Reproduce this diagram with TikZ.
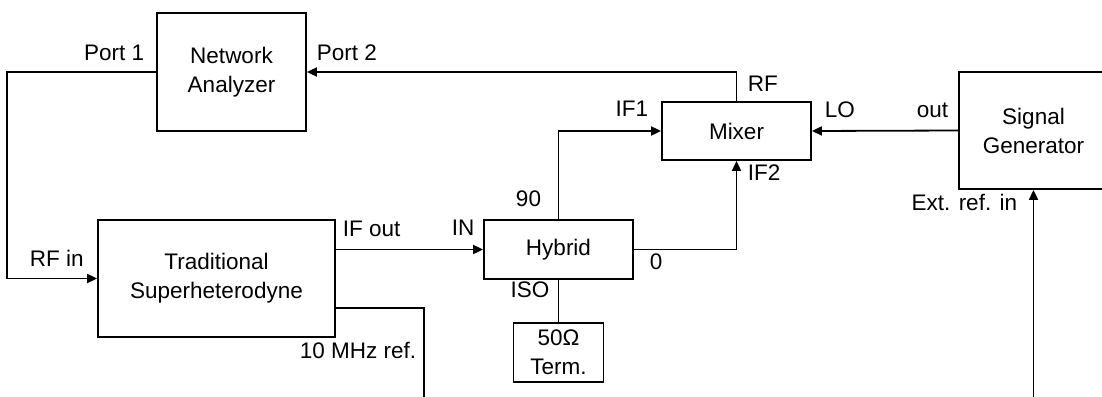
\documentclass[tikz,border=0pt]{standalone}
\usepackage{fontspec}
\setmainfont{Liberation Sans}
\usetikzlibrary{arrows.meta}
\begin{document}
\begin{tikzpicture}[x=1pt,y=-1pt,
  line width=1.8pt,
  blk/.style={draw,rectangle,inner sep=0pt,align=center,font=\fontsize{22.5}{29}\selectfont},
  lbl/.style={inner sep=0pt,font=\fontsize{22.5}{29}\selectfont,text height=0.716em,text depth=0pt},
  arr/.style={-{Triangle[length=10pt,width=9pt]}}]
\useasboundingbox (0,0) rectangle (1102,396);
\node[blk,minimum width=149pt,minimum height=118pt] (NA) at (231.5,72) {Network\\Analyzer};
\node[blk,minimum width=149pt,minimum height=58pt] (MX) at (736.5,131) {Mixer};
\node[blk,minimum width=149pt,minimum height=59pt] (HY) at (558.5,249.5) {Hybrid};
\node[blk,minimum width=90pt,minimum height=59pt] (TM) at (558.5,352.5) {50Ω\\Term.};
\node[blk,minimum width=149pt,minimum height=117pt] (SG) at (1033.5,130.5) {Signal\\Generator};
\node[blk,minimum width=237pt,minimum height=117pt] (TS) at (216.5,278.5) {Traditional\\Superheterodyne};
\coordinate (refend) at (424,400);
\coordinate (extend) at (1033.5,400);
\coordinate (r1) at ([yshift=-29.5pt]TS.east);
\draw[arr] (NA.west) -- ++(-149,0) |- (TS.west);
\draw[arr] (MX.north) |- (NA.east);
\draw[arr] (TS.east |- HY.west) -- (HY.west);
\draw[arr] (HY.north) |- (MX.west);
\draw[arr] (HY.east) -| (MX.south);
\draw (HY.south) -- (TM.north);
\draw[arr] (SG.west) -- (MX.east);
\draw (r1) -| (refend);
\draw[arr] (extend) -- (SG.south);
\node[lbl,anchor=east] (lp1) at (145,57) {Port 1};
\node[lbl,anchor=west] (lp2) at (316,57) {Port 2};
\node[lbl,anchor=west] (lrf) at (747,88) {RF};
\node[lbl,anchor=east] (lif1) at (649,113) {IF1};
\node[lbl,anchor=west] (llo) at (824,114) {LO};
\node[lbl,anchor=east] (lout) at (949,114) {out};
\node[lbl,anchor=west] (lif2) at (747,177) {IF2};
\node[lbl] (l90) at (528.5,203) {90};
\node[lbl] (lin) at (463,232) {IN};
\node[lbl] (l0) at (656,266) {0};
\node[lbl] (liso) at (530,294) {ISO};
\node[lbl,anchor=west] (lifout) at (342,233) {IF out};
\node[lbl,anchor=west] (lrfin) at (29,263) {RF in};
\node[lbl,anchor=east] (l10) at (417,355) {10 MHz ref.};
\node[lbl,anchor=east] (lext) at (1018,207) {Ext. ref. in};
\end{tikzpicture}
\end{document}
